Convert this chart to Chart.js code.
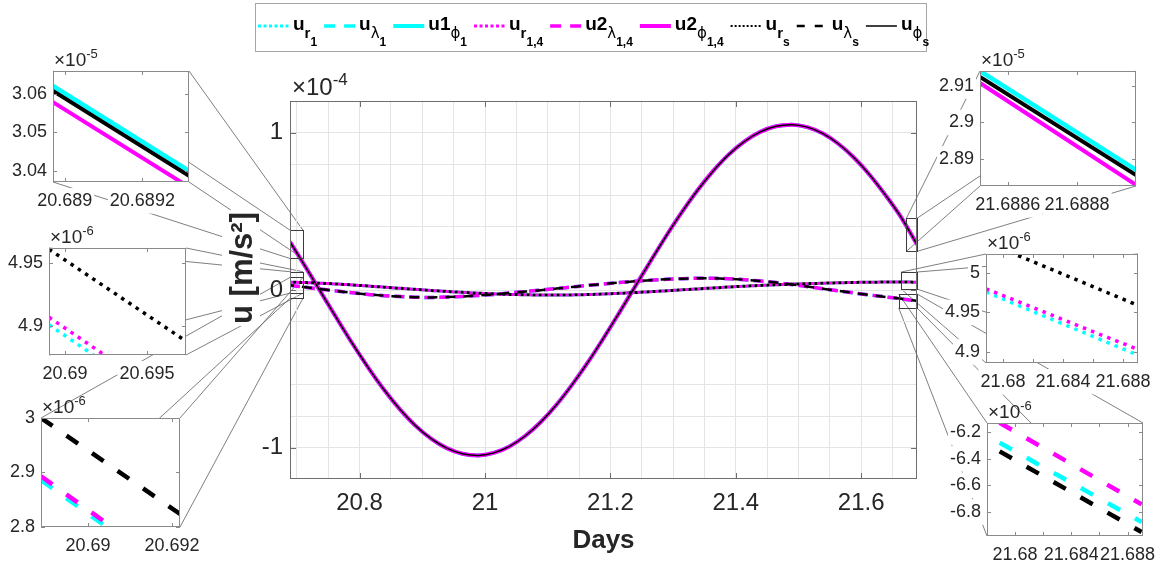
<!DOCTYPE html>
<html>
<head>
<meta charset="utf-8">
<title>u [m/s²] versus Days</title>
<script src="https://cdn.jsdelivr.net/npm/chart.js@4.4.1/dist/chart.umd.min.js"></script>
<style>
  html, body { margin: 0; padding: 0; background: #ffffff; }
  #stage { position: relative; width: 1168px; height: 568px; overflow: hidden; background: #ffffff; }
  #stage canvas { position: absolute; left: 0; top: 0; }
</style>
</head>
<body>
<div id="stage">
  <canvas id="mainChart" width="1168" height="568"></canvas>
  <canvas id="insetLT" width="1168" height="568"></canvas>
  <canvas id="insetLM" width="1168" height="568"></canvas>
  <canvas id="insetLB" width="1168" height="568"></canvas>
  <canvas id="insetRT" width="1168" height="568"></canvas>
  <canvas id="insetRM" width="1168" height="568"></canvas>
  <canvas id="insetRB" width="1168" height="568"></canvas>
</div>
<script>
// ---------------- main window: one day of samples ----------------
const DAYS = [20.68897, 20.71397, 20.73897, 20.76397, 20.78897, 20.81397, 20.83897, 20.86397, 20.88897, 20.91397,
              20.93897, 20.96397, 20.98897, 21.01397, 21.03897, 21.06397, 21.08897, 21.11397, 21.13897, 21.16397,
              21.18897, 21.21397, 21.23897, 21.26397, 21.28897, 21.31397, 21.33897, 21.36397, 21.38897, 21.41397,
              21.43897, 21.46397, 21.48897, 21.51397, 21.53897, 21.56397, 21.58897, 21.61397, 21.63897, 21.66397,
              21.68897];
// phi component [m/s^2]
const U_PHI = [3.06e-5, 1.45e-5, -0.19e-5, -1.83e-5, -3.43e-5, -4.94e-5, -6.33e-5, -7.56e-5, -8.61e-5, -9.44e-5,
               -10.04e-5, -10.40e-5, -10.50e-5, -10.34e-5, -9.93e-5, -9.27e-5, -8.38e-5, -7.29e-5, -6.01e-5, -4.60e-5,
               -3.06e-5, -1.45e-5, 0.19e-5, 1.83e-5, 3.43e-5, 4.94e-5, 6.33e-5, 7.56e-5, 8.61e-5, 9.44e-5,
               10.04e-5, 10.40e-5, 10.50e-5, 10.34e-5, 9.93e-5, 9.27e-5, 8.38e-5, 7.29e-5, 6.01e-5, 4.60e-5,
               2.89e-5];
// radial component [m/s^2]
const U_R = [4.96e-6, 4.70e-6, 4.30e-6, 3.80e-6, 3.20e-6, 2.50e-6, 1.80e-6, 1.10e-6, 0.40e-6, -0.30e-6,
             -0.90e-6, -1.50e-6, -2.00e-6, -2.40e-6, -2.80e-6, -3.00e-6, -3.20e-6, -3.20e-6, -3.10e-6, -2.90e-6,
             -2.50e-6, -2.10e-6, -1.60e-6, -1.10e-6, -0.50e-6, 0.10e-6, 0.70e-6, 1.30e-6, 1.90e-6, 2.40e-6,
             2.90e-6, 3.30e-6, 3.70e-6, 4.00e-6, 4.30e-6, 4.60e-6, 4.80e-6, 4.95e-6, 5.03e-6, 5.04e-6,
             4.96e-6];
// lambda component [m/s^2]
const U_LAMBDA = [3.00e-6, 1.70e-6, 0.50e-6, -0.70e-6, -1.80e-6, -2.80e-6, -3.60e-6, -4.20e-6, -4.60e-6, -4.70e-6,
                  -4.50e-6, -4.10e-6, -3.50e-6, -2.80e-6, -1.90e-6, -1.00e-6, -0.10e-6, 0.90e-6, 1.90e-6, 2.90e-6,
                  3.80e-6, 4.70e-6, 5.50e-6, 6.20e-6, 6.80e-6, 7.20e-6, 7.40e-6, 7.40e-6, 7.10e-6, 6.50e-6,
                  5.70e-6, 4.70e-6, 3.50e-6, 2.20e-6, 0.80e-6, -0.60e-6, -1.90e-6, -3.20e-6, -4.40e-6, -5.60e-6,
                  -6.90e-6];

// main axes ticks
const X_GRID = [20.70, 20.75, 20.80, 20.85, 20.90, 20.95, 21.00, 21.05, 21.10, 21.15,
                21.20, 21.25, 21.30, 21.35, 21.40, 21.45, 21.50, 21.55, 21.60, 21.65];
const X_LABELED = [20.8, 21.0, 21.2, 21.4, 21.6];
const Y_GRID = [-1.0e-4, -0.8e-4, -0.6e-4, -0.4e-4, -0.2e-4, 0, 0.2e-4, 0.4e-4, 0.6e-4, 0.8e-4, 1.0e-4];
const Y_LABELED = [-1e-4, 0, 1e-4];

// ---------------- zoomed windows ----------------
// phi, start of the day
const LT_DAYS = [20.68897, 20.68932];
const LT_PHI_1 = [3.0621e-5, 3.0400e-5];
const LT_PHI_14 = [3.0579e-5, 3.0358e-5];
const LT_PHI_S = [3.0608e-5, 3.0387e-5];
const LT_XTICKS = [20.689, 20.6892];
const LT_YTICKS = [3.04e-5, 3.05e-5, 3.06e-5];
// radial, start of the day
const LM_DAYS = [20.68902, 20.69738];
const LM_R_1 = [4.901e-6, 4.827e-6];
const LM_R_14 = [4.907e-6, 4.833e-6];
const LM_R_S = [4.961e-6, 4.888e-6];
const LM_XTICKS = [20.69, 20.695];
const LM_YTICKS = [4.9e-6, 4.95e-6];
// lambda, start of the day
const LB_DAYS = [20.68888, 20.69219];
const LB_LAM_1 = [2.886e-6, 2.704e-6];
const LB_LAM_14 = [2.893e-6, 2.711e-6];
const LB_LAM_S = [3.000e-6, 2.824e-6];
const LB_XTICKS = [20.69, 20.692];
const LB_YTICKS = [2.8e-6, 2.9e-6, 3.0e-6];
// phi, end of the day
const RT_DAYS = [21.68852, 21.68897];
const RT_PHI_1 = [2.9141e-5, 2.8870e-5];
const RT_PHI_14 = [2.9108e-5, 2.8829e-5];
const RT_PHI_S = [2.9125e-5, 2.8856e-5];
const RT_XTICKS = [21.6886, 21.6888];
const RT_YTICKS = [2.89e-5, 2.90e-5, 2.91e-5];
// radial, end of the day
const RM_DAYS = [21.67887, 21.68900];
const RM_R_1 = [4.976e-6, 4.896e-6];
const RM_R_14 = [4.980e-6, 4.903e-6];
const RM_R_S = [5.039e-6, 4.959e-6];
const RM_XTICKS = [21.68, 21.684, 21.688];
const RM_XMINOR = [21.682, 21.686];
const RM_YTICKS = [4.9e-6, 4.95e-6, 5.0e-6];
// lambda, end of the day
const RB_DAYS = [21.67890, 21.68900];
const RB_LAM_1 = [-6.280e-6, -6.875e-6];
const RB_LAM_14 = [-6.130e-6, -6.743e-6];
const RB_LAM_S = [-6.345e-6, -6.950e-6];
const RB_XTICKS = [21.68, 21.684, 21.688];
const RB_XMINOR = [21.682, 21.686];
const RB_YTICKS = [-6.8e-6, -6.6e-6, -6.4e-6, -6.2e-6];

// regions of the main axes that each window magnifies: [days], [u]
const ZOOM_LT = { days: [20.68897, 20.7096], u: [2.0e-5, 3.8e-5] };
const ZOOM_LM = { days: [20.68897, 20.7096], u: [-0.2e-5, 1.16e-5] };
const ZOOM_LB = { days: [20.68897, 20.7096], u: [-0.53e-5, 0.8e-5] };
const ZOOM_RT = { days: [21.6720, 21.68897], u: [2.45e-5, 4.55e-5] };
const ZOOM_RM = { days: [21.6637, 21.68897], u: [0.06e-5, 1.14e-5] };
const ZOOM_RB = { days: [21.6598, 21.68897], u: [-1.14e-5, -0.25e-5] };

// ---------------- styling ----------------
const CYAN = '#00ffff';
const MAGENTA = '#ff00ff';
const BLACK = '#000000';
const TEXT = '#262626';
const AXIS = '#6e6e6e';
const FONT = '"Liberation Sans", Arial, Helvetica, sans-serif';
const W = 1168, H = 568;

function pts(xs, ys) { return xs.map((x, i) => ({ x: x, y: ys[i] })); }
function fmt(v) { return String(parseFloat(v.toFixed(6))); }
function inList(list, v, tol) { return list.some(t => Math.abs(t - v) <= tol); }

// superscripted "×10^n" label
function drawExponent(ctx, x, y, n, size) {
  ctx.save();
  ctx.fillStyle = TEXT;
  ctx.textBaseline = 'alphabetic';
  ctx.textAlign = 'left';
  ctx.font = size + 'px ' + FONT;
  ctx.fillText('\u00d710', x, y);
  const w = ctx.measureText('\u00d710').width;
  ctx.font = Math.round(size * 0.7) + 'px ' + FONT;
  ctx.fillText(String(n), x + w, y - size * 0.42);
  ctx.restore();
}

// ---------------- inset charts ----------------
const insetDecor = {
  id: 'insetDecor',
  beforeDraw(chart) {
    const a = chart.chartArea, ctx = chart.ctx;
    ctx.save();
    ctx.fillStyle = '#ffffff';
    ctx.fillRect(a.left, a.top, a.right - a.left, a.bottom - a.top);
    ctx.restore();
  },
  afterDraw(chart, args, opts) {
    const a = chart.chartArea, ctx = chart.ctx;
    const xs = chart.scales.x, ys = chart.scales.y;
    ctx.save();
    ctx.strokeStyle = '#8a8a8a';
    ctx.lineWidth = 1;
    ctx.strokeRect(a.left + 0.5, a.top + 0.5, a.right - a.left - 1, a.bottom - a.top - 1);
    const len = 4;
    ctx.beginPath();
    (opts.xMarks || []).forEach(v => {
      const p = Math.round(xs.getPixelForValue(v)) + 0.5;
      ctx.moveTo(p, a.bottom); ctx.lineTo(p, a.bottom - len);
      ctx.moveTo(p, a.top); ctx.lineTo(p, a.top + len);
    });
    (opts.yMarks || []).forEach(v => {
      const p = Math.round(ys.getPixelForValue(v)) + 0.5;
      ctx.moveTo(a.left, p); ctx.lineTo(a.left + len, p);
      ctx.moveTo(a.right, p); ctx.lineTo(a.right - len, p);
    });
    ctx.stroke();
    ctx.restore();
    drawExponent(ctx, a.left + 1, a.top - 5, opts.exp, 19);
  }
};

function lineSet(label, xs, ys, color, width, dash, order, offset) {
  return {
    label: label, data: pts(xs, ys), borderColor: color, backgroundColor: color,
    borderWidth: width, borderDash: dash, borderDashOffset: offset || 0, borderCapStyle: 'butt',
    order: order, pointRadius: 0, fill: false, tension: 0
  };
}

function makeInset(spec) {
  const box = spec.box;
  const scaleY = Math.pow(10, spec.exp);
  const tickFont = { family: FONT, size: 18 };
  const xh = 36;
  return new Chart(document.getElementById(spec.id), {
    type: 'line',
    data: { datasets: spec.sets },
    options: {
      responsive: false, animation: false, devicePixelRatio: 1, events: [],
      layout: { padding: { left: 0, top: box.t, right: W - box.r, bottom: H - box.b - xh } },
      plugins: {
        legend: { display: false }, tooltip: { enabled: false },
        insetDecor: { exp: spec.exp, xMarks: spec.xTicks.concat(spec.xMinor || []), yMarks: spec.yTicks }
      },
      scales: {
        x: {
          type: 'linear', min: spec.xRange[0], max: spec.xRange[1],
          afterFit: s => { s.height = xh; },
          afterBuildTicks: s => { s.ticks = spec.xTicks.map(v => ({ value: v })); },
          grid: { display: false, drawTicks: false }, border: { display: false },
          ticks: {
            autoSkip: false, maxRotation: 0, minRotation: 0, padding: 8, color: TEXT, font: tickFont,
            showLabelBackdrop: true, backdropColor: '#ffffff', backdropPadding: 2,
            callback: v => fmt(v)
          }
        },
        y: {
          type: 'linear', min: spec.yRange[0], max: spec.yRange[1],
          afterFit: s => { s.width = box.l; },
          afterBuildTicks: s => { s.ticks = spec.yTicks.map(v => ({ value: v })); },
          grid: { display: false, drawTicks: false }, border: { display: false },
          ticks: {
            autoSkip: false, padding: 6, color: TEXT, font: tickFont,
            showLabelBackdrop: true, backdropColor: '#ffffff', backdropPadding: 2,
            callback: v => fmt(v / scaleY)
          }
        }
      }
    },
    plugins: [insetDecor]
  });
}

const SOLID = [], DOT_W = [3.5, 5.2], DASH_W = [14, 17];
const INSETS = [
  { id: 'insetLT', box: { l: 53, t: 71, r: 189, b: 182 }, exp: -5, zoom: ZOOM_LT,
    xRange: [20.68897, 20.68932], yRange: [3.0371e-5, 3.0660e-5], xTicks: LT_XTICKS, yTicks: LT_YTICKS,
    sets: [lineSet('u1 phi 1', LT_DAYS, LT_PHI_1, CYAN, 4.5, SOLID, 2),
           lineSet('u2 phi 1,4', LT_DAYS, LT_PHI_14, MAGENTA, 4, SOLID, 1),
           lineSet('u phi s', LT_DAYS, LT_PHI_S, BLACK, 4, SOLID, 0)] },
  { id: 'insetLM', box: { l: 49, t: 248, r: 186, b: 355 }, exp: -6, zoom: ZOOM_LM,
    xRange: [20.68902, 20.69738], yRange: [4.877e-6, 4.962e-6], xTicks: LM_XTICKS, yTicks: LM_YTICKS,
    sets: [lineSet('u r 1', LM_DAYS, LM_R_1, CYAN, 3.5, DOT_W, 2),
           lineSet('u r 1,4', LM_DAYS, LM_R_14, MAGENTA, 3.5, DOT_W, 1),
           lineSet('u r s', LM_DAYS, LM_R_S, BLACK, 3.5, DOT_W, 0)] },
  { id: 'insetLB', box: { l: 41, t: 418, r: 180, b: 527 }, exp: -6, zoom: ZOOM_LB,
    xRange: [20.68888, 20.69219], yRange: [2.8e-6, 3.0e-6], xTicks: LB_XTICKS, yTicks: LB_YTICKS,
    sets: [lineSet('u lambda 1', LB_DAYS, LB_LAM_1, CYAN, 4.5, DASH_W, 2),
           lineSet('u2 lambda 1,4', LB_DAYS, LB_LAM_14, MAGENTA, 4.5, DASH_W, 1),
           lineSet('u lambda s', LB_DAYS, LB_LAM_S, BLACK, 4.5, DASH_W, 0)] },
  { id: 'insetRT', box: { l: 980, t: 71, r: 1136, b: 186 }, exp: -5, zoom: ZOOM_RT,
    xRange: [21.68852, 21.68897], yRange: [2.8826e-5, 2.9141e-5], xTicks: RT_XTICKS, yTicks: RT_YTICKS,
    sets: [lineSet('u1 phi 1', RT_DAYS, RT_PHI_1, CYAN, 4.5, SOLID, 2),
           lineSet('u2 phi 1,4', RT_DAYS, RT_PHI_14, MAGENTA, 4, SOLID, 1),
           lineSet('u phi s', RT_DAYS, RT_PHI_S, BLACK, 4, SOLID, 0)] },
  { id: 'insetRM', box: { l: 986, t: 254, r: 1138, b: 363 }, exp: -6, zoom: ZOOM_RM,
    xRange: [21.67887, 21.68900], yRange: [4.886e-6, 5.024e-6], xTicks: RM_XTICKS, xMinor: RM_XMINOR, yTicks: RM_YTICKS,
    sets: [lineSet('u r 1', RM_DAYS, RM_R_1, CYAN, 3.5, DOT_W, 2),
           lineSet('u r 1,4', RM_DAYS, RM_R_14, MAGENTA, 3.5, DOT_W, 1),
           lineSet('u r s', RM_DAYS, RM_R_S, BLACK, 3.5, DOT_W, 0)] },
  { id: 'insetRB', box: { l: 987, t: 423, r: 1143, b: 536 }, exp: -6, zoom: ZOOM_RB,
    xRange: [21.6780, 21.6891], yRange: [-6.98e-6, -6.132e-6], xTicks: RB_XTICKS, xMinor: RB_XMINOR, yTicks: RB_YTICKS,
    sets: [lineSet('u lambda 1', RB_DAYS, RB_LAM_1, CYAN, 4.5, DASH_W, 2),
           lineSet('u2 lambda 1,4', RB_DAYS, RB_LAM_14, MAGENTA, 4.5, DASH_W, 1),
           lineSet('u lambda s', RB_DAYS, RB_LAM_S, BLACK, 4.5, DASH_W, 0)] }
];
INSETS.forEach(spec => { spec.chart = makeInset(spec); });

// ---------------- legend entries ----------------
const LEGEND = [
  { color: CYAN, style: 'dot', parts: [['u', 0], ['r', 1], ['1', 2]] },
  { color: CYAN, style: 'dash', parts: [['u', 0], ['\u03bb', 1], ['1', 2]] },
  { color: CYAN, style: 'solid', parts: [['u1', 0], ['\u03d5', 1], ['1', 2]] },
  { color: MAGENTA, style: 'dot', parts: [['u', 0], ['r', 1], ['1,4', 2]] },
  { color: MAGENTA, style: 'dash', parts: [['u2', 0], ['\u03bb', 1], ['1,4', 2]] },
  { color: MAGENTA, style: 'solid', parts: [['u2', 0], ['\u03d5', 1], ['1,4', 2]] },
  { color: BLACK, style: 'dot', parts: [['u', 0], ['r', 1], ['s', 2]] },
  { color: BLACK, style: 'dash', parts: [['u', 0], ['\u03bb', 1], ['s', 2]] },
  { color: BLACK, style: 'solid', parts: [['u', 0], ['\u03d5', 1], ['s', 2]] }
];

function legendFont(text, level) {
  const greek = /[\u0370-\u03ff]/.test(text);
  const size = level === 0 ? 19 : level === 1 ? 15 : 12;
  return (greek ? 'normal ' : 'bold ') + size + 'px ' + (greek ? '"DejaVu Sans", ' : '') + FONT;
}

function drawLegend(ctx) {
  const bx = 255, by = 3, bw = 671, bh = 48;
  ctx.save();
  ctx.fillStyle = '#ffffff';
  ctx.fillRect(bx, by, bw, bh);
  ctx.strokeStyle = '#a6a6a6';
  ctx.lineWidth = 1;
  ctx.strokeRect(bx + 0.5, by + 0.5, bw, bh);
  const lineY = 26, base = 30;
  const drop = [0, 8, 16];
  let x = 258;
  LEGEND.forEach(item => {
    ctx.strokeStyle = item.color;
    if (item.style === 'dot') { ctx.setLineDash(item.color === BLACK ? [2, 2] : [3, 2.5]); ctx.lineWidth = item.color === BLACK ? 2 : 3; }
    else if (item.style === 'dash') { ctx.setLineDash(item.color === BLACK ? [8, 10] : [11, 9]); ctx.lineWidth = item.color === BLACK ? 2.5 : 3.5; }
    else { ctx.setLineDash([]); ctx.lineWidth = item.color === BLACK ? 1.5 : 4; }
    ctx.beginPath();
    ctx.moveTo(x, lineY); ctx.lineTo(x + 31, lineY);
    ctx.stroke();
    x += 35;
    ctx.fillStyle = BLACK;
    ctx.textAlign = 'left';
    ctx.textBaseline = 'alphabetic';
    item.parts.forEach(p => {
      ctx.font = legendFont(p[0], p[1]);
      ctx.fillText(p[0], x, base + drop[p[1]]);
      x += ctx.measureText(p[0]).width;
    });
    x += 7;
  });
  ctx.restore();
}

// ---------------- main chart ----------------
const mainDecor = {
  id: 'mainDecor',
  beforeDraw(chart) {
    // guide lines from each magnified region to its window
    const ctx = chart.ctx, xs = chart.scales.x, ys = chart.scales.y;
    ctx.save();
    ctx.strokeStyle = '#5e5e5e';
    ctx.lineWidth = 0.8;
    INSETS.forEach(ins => {
      const a = ins.chart.chartArea;
      const x0 = xs.getPixelForValue(ins.zoom.days[0]), x1 = xs.getPixelForValue(ins.zoom.days[1]);
      const yT = ys.getPixelForValue(ins.zoom.u[1]), yB = ys.getPixelForValue(ins.zoom.u[0]);
      [[a.left, a.top, x0, yT], [a.right, a.top, x1, yT], [a.left, a.bottom, x0, yB], [a.right, a.bottom, x1, yB]]
        .forEach(s => { ctx.beginPath(); ctx.moveTo(s[0], s[1]); ctx.lineTo(s[2], s[3]); ctx.stroke(); });
    });
    ctx.restore();
  },
  afterDatasetsDraw(chart) {
    const ctx = chart.ctx, a = chart.chartArea, xs = chart.scales.x, ys = chart.scales.y;
    ctx.save();
    // magnified regions
    ctx.strokeStyle = '#3c3c3c';
    ctx.lineWidth = 1;
    INSETS.forEach(ins => {
      const x0 = xs.getPixelForValue(ins.zoom.days[0]), x1 = xs.getPixelForValue(ins.zoom.days[1]);
      const yT = ys.getPixelForValue(ins.zoom.u[1]), yB = ys.getPixelForValue(ins.zoom.u[0]);
      ctx.strokeRect(Math.round(x0) + 0.5, Math.round(yT) + 0.5, Math.round(x1 - x0), Math.round(yB - yT));
    });
    // axes box and inward ticks
    ctx.strokeStyle = AXIS;
    ctx.strokeRect(a.left + 0.5, a.top + 0.5, a.right - a.left - 1, a.bottom - a.top - 1);
    ctx.beginPath();
    X_LABELED.forEach(v => {
      const p = Math.round(xs.getPixelForValue(v)) + 0.5;
      ctx.moveTo(p, a.bottom); ctx.lineTo(p, a.bottom - 6);
      ctx.moveTo(p, a.top); ctx.lineTo(p, a.top + 6);
    });
    Y_LABELED.forEach(v => {
      const p = Math.round(ys.getPixelForValue(v)) + 0.5;
      ctx.moveTo(a.left, p); ctx.lineTo(a.left + 6, p);
      ctx.moveTo(a.right, p); ctx.lineTo(a.right - 6, p);
    });
    ctx.stroke();
    ctx.restore();
  },
  afterDraw(chart) {
    const ctx = chart.ctx, a = chart.chartArea;
    drawExponent(ctx, a.left + 2, a.top - 6, -4, 24);
    // vertical axis title on a white backing
    ctx.save();
    ctx.translate(252, 268);
    ctx.rotate(-Math.PI / 2);
    ctx.font = 'bold 31px ' + FONT;
    const label = 'u [m/s\u00b2]';
    const w = ctx.measureText(label).width;
    ctx.fillStyle = '#ffffff';
    ctx.fillRect(-w / 2 - 2, -30, w + 4, 38);
    ctx.fillStyle = TEXT;
    ctx.textAlign = 'center';
    ctx.textBaseline = 'alphabetic';
    ctx.fillText(label, 0, 0);
    ctx.restore();
    drawLegend(ctx);
  }
};

function mainSet(label, ys, color, width, dash, order, offset) {
  return {
    label: label, data: pts(DAYS, ys), borderColor: color, backgroundColor: color,
    borderWidth: width, borderDash: dash, borderDashOffset: offset || 0, borderCapStyle: 'butt',
    order: order, pointRadius: 0, fill: false, cubicInterpolationMode: 'monotone'
  };
}

const mainChart = new Chart(document.getElementById('mainChart'), {
  type: 'line',
  data: {
    datasets: [
      mainSet('u r 1', U_R, CYAN, 3, [3, 3], 2),
      mainSet('u lambda 1', U_LAMBDA, CYAN, 3.5, [10, 5], 2),
      mainSet('u1 phi 1', U_PHI, CYAN, 4, [], 2),
      mainSet('u r 1,4', U_R, MAGENTA, 3, [3, 3], 1),
      mainSet('u2 lambda 1,4', U_LAMBDA, MAGENTA, 3.5, [10, 5], 1),
      mainSet('u2 phi 1,4', U_PHI, MAGENTA, 4, [], 1),
      mainSet('u r s', U_R, BLACK, 3, [3, 3], 0, 3),
      mainSet('u lambda s', U_LAMBDA, BLACK, 2.5, [10, 8], 0, 6),
      mainSet('u phi s', U_PHI, BLACK, 1.5, [], 0)
    ]
  },
  options: {
    responsive: false, animation: false, devicePixelRatio: 1, events: [],
    layout: { padding: { left: 0, top: 101, right: W - 917, bottom: 0 } },
    plugins: { legend: { display: false }, tooltip: { enabled: false } },
    scales: {
      x: {
        type: 'linear', min: 20.68897, max: 21.68897,
        afterFit: s => { s.height = H - 479; },
        afterBuildTicks: s => { s.ticks = X_GRID.map(v => ({ value: v })); },
        grid: { color: '#e4e4e4', lineWidth: 1, drawTicks: false }, border: { display: false },
        ticks: {
          autoSkip: false, maxRotation: 0, minRotation: 0, padding: 10, color: TEXT,
          font: { family: FONT, size: 24 },
          callback: v => inList(X_LABELED, v, 1e-6) ? fmt(v) : ''
        },
        title: { display: true, text: 'Days', color: TEXT, font: { family: FONT, size: 26, weight: 'bold' }, padding: { top: 0, bottom: 12 } }
      },
      y: {
        type: 'linear', min: -1.2e-4, max: 1.2e-4,
        afterFit: s => { s.width = 290; },
        afterBuildTicks: s => { s.ticks = Y_GRID.map(v => ({ value: v })); },
        grid: { color: '#e4e4e4', lineWidth: 1, drawTicks: false }, border: { display: false },
        ticks: {
          autoSkip: false, padding: 7, color: TEXT, font: { family: FONT, size: 24 },
          callback: v => inList(Y_LABELED, v, 1e-9) ? fmt(v / 1e-4) : ''
        }
      }
    }
  },
  plugins: [mainDecor]
});
</script>
</body>
</html>
